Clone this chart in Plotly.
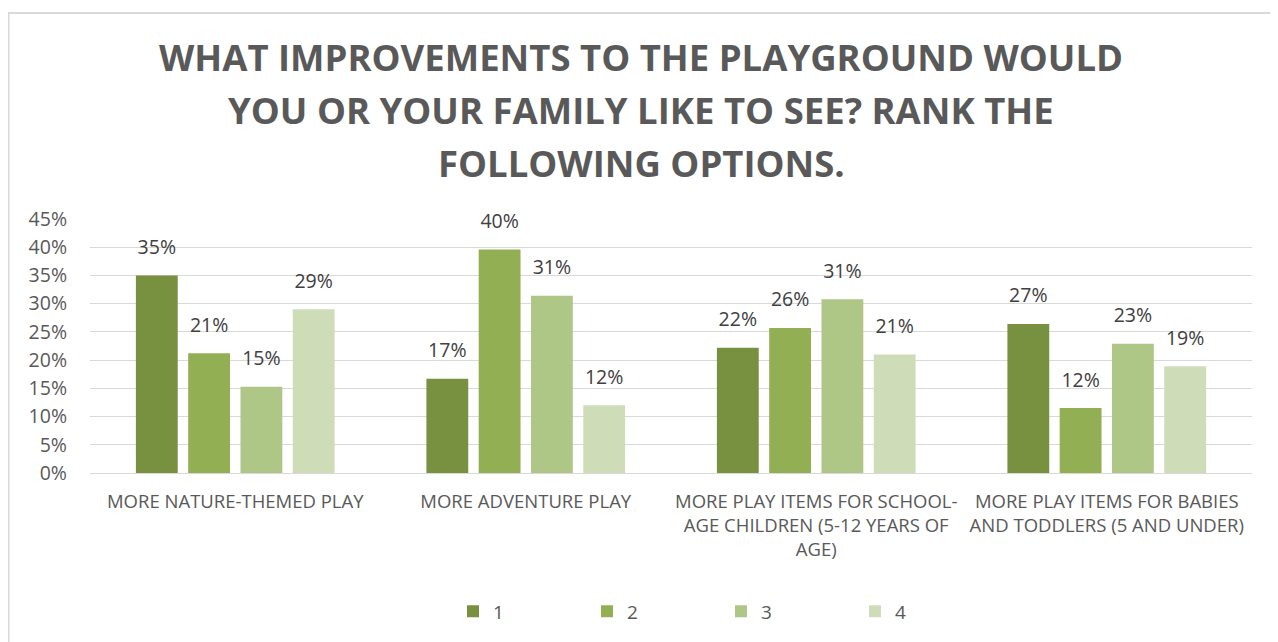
import plotly.graph_objects as go

categories = [
    "MORE NATURE-THEMED PLAY",
    "MORE ADVENTURE PLAY",
    "MORE PLAY ITEMS FOR SCHOOL-<br>AGE CHILDREN (5-12 YEARS OF<br>AGE)",
    "MORE PLAY ITEMS FOR BABIES<br>AND TODDLERS (5 AND UNDER)",
]
series_names = ["1", "2", "3", "4"]
rank1 = [35.0, 16.7, 22.2, 26.4]
rank2 = [21.2, 39.6, 25.7, 11.5]
rank3 = [15.3, 31.4, 30.8, 22.9]
rank4 = [29.0, 12.0, 21.0, 18.9]
series_values = [rank1, rank2, rank3, rank4]
label_values = [[35, 17, 22, 27], [21, 40, 26, 12], [15, 31, 31, 23], [29, 12, 21, 19]]
colors = ["#789140", "#92AF54", "#AEC686", "#CEDDB8"]
title_lines = [
    "WHAT IMPROVEMENTS TO THE PLAYGROUND WOULD",
    "YOU OR YOUR FAMILY LIKE TO SEE? RANK THE",
    "FOLLOWING OPTIONS.",
]

W, H = 1270, 634
L, R, T, B = 82, 26, 211, 164
PW, PH = W - L - R, H - T - B

fig = go.Figure()
for i, (name, vals, col) in enumerate(zip(series_names, series_values, colors)):
    fig.add_trace(go.Bar(
        x=categories, y=vals, name=name, legendgroup=name, offsetgroup=str(i),
        marker=dict(color=col, line=dict(width=0)),
    ))
for i, (name, vals, labs) in enumerate(zip(series_names, series_values, label_values)):
    fig.add_trace(go.Scatter(
        x=categories, y=vals, mode="markers+text", legendgroup=name, offsetgroup=str(i),
        showlegend=False, hoverinfo="skip",
        marker=dict(size=25, opacity=0),
        text=[f"{v}%" for v in labs], textposition="top center",
        textfont=dict(size=19.5, color="#404040", family="Open Sans"),
        cliponaxis=False,
    ))

annotations = []
for k, line in enumerate(title_lines):
    fy = 46 + k * 54
    annotations.append(dict(
        text=f"<b>{line}</b>", xref="paper", yref="paper",
        x=(633 - L) / PW, y=(T + PH - fy) / PH, xanchor="center", yanchor="middle",
        showarrow=False, font=dict(size=36.5, color="#595959", family="Open Sans"),
    ))

fig.update_layout(
    width=W, height=H,
    paper_bgcolor="white", plot_bgcolor="white",
    margin=dict(l=L, r=R, t=T, b=B),
    barmode="group", bargap=0.28, bargroupgap=0.2,
    scattermode="group", scattergap=0.28,
    font=dict(family="Open Sans", color="#595959"),
    xaxis=dict(showline=False, ticks="", tickfont=dict(size=18.5, color="#595959"),
               showgrid=False, ticklabelstandoff=15),
    yaxis=dict(range=[0, 45], dtick=5, ticksuffix="%", showgrid=True, gridcolor="#D9D9D9",
               gridwidth=1, zeroline=True, zerolinecolor="#D9D9D9", zerolinewidth=1,
               tickfont=dict(size=19.5, color="#595959"), ticks="", showline=False,
               ticklabelstandoff=22),
    legend=dict(orientation="h", x=(713 - L) / PW, xanchor="center",
                y=(T + PH - 611) / PH, yanchor="middle",
                font=dict(size=19, color="#595959"), entrywidth=89, traceorder="normal"),
    annotations=annotations,
    shapes=[dict(type="rect", xref="paper", yref="paper",
                 x0=(0.5 - L) / PW, x1=(W + 20 - L) / PW,
                 y0=(T + PH - H - 20) / PH, y1=(T + PH - 1) / PH,
                 line=dict(color="#D9D9D9", width=2), fillcolor="rgba(0,0,0,0)", layer="below")],
)

fig.write_html("out.html")
